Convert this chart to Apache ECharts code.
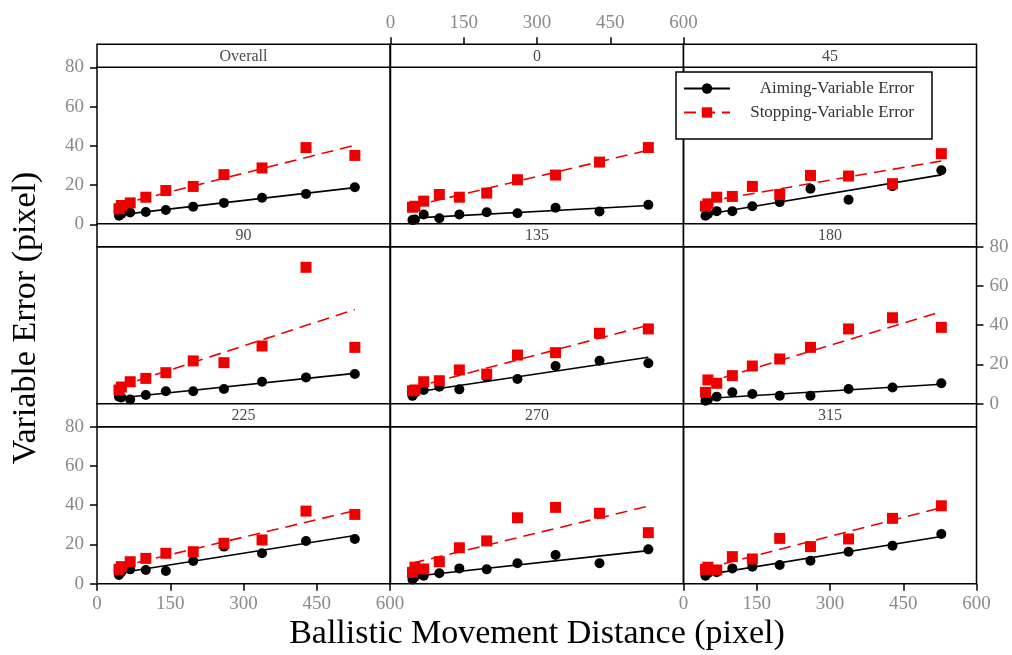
<!DOCTYPE html>
<html>
<head>
<meta charset="utf-8">
<script src="https://cdn.jsdelivr.net/npm/echarts@6/dist/echarts.min.js"></script>
<style>
  html, body { margin: 0; padding: 0; background: #fff; }
  #chart { width: 1012px; height: 655px; }
</style>
</head>
<body>
<div id="chart"></div>
<script>
// Ballistic movement distance (pixel) shared by every panel
const distances = [45, 50, 68, 100, 141, 197, 260, 338, 428, 528];
const panelTitles = ['Overall', '0', '45', '90', '135', '180', '225', '270', '315'];
const xTicks = [0, 150, 300, 450, 600];
const yTicks = [0, 20, 40, 60, 80];

// Variable error (pixel) per direction panel
const aimingOverall   = [4.4, 5.3, 6.0, 6.3, 7.3, 9.0, 10.9, 13.5, 15.5, 18.9];
const stoppingOverall = [7.9, 9.6, 10.9, 13.8, 17.2, 19.3, 25.3, 28.7, 39.1, 35.1];
const aiming0   = [2.2, 2.4, 5.0, 3.1, 5.0, 6.1, 5.6, 8.4, 6.5, 9.9];
const stopping0 = [8.7, 9.2, 11.8, 15.2, 13.8, 15.9, 22.7, 25.1, 31.7, 39.1];
const aiming45   = [4.4, 5.3, 6.7, 6.7, 9.2, 11.3, 18.1, 12.5, 19.4, 27.5];
const stopping45 = [9.2, 10.4, 13.8, 14.2, 19.3, 15.2, 24.9, 24.6, 20.7, 36.0];
const aiming90   = [3.6, 3.2, 2.2, 4.4, 6.3, 6.3, 7.5, 11.2, 13.4, 15.1];
const stopping90 = [7.0, 8.5, 11.2, 12.9, 15.8, 21.8, 20.9, 29.4, 69.5, 28.7];
const aiming135   = [4.0, 5.6, 7.0, 8.7, 7.3, 13.5, 12.6, 19.2, 21.9, 20.6];
const stopping135 = [6.6, 7.0, 11.2, 11.7, 17.2, 15.1, 24.8, 26.0, 35.9, 38.1];
const aiming180   = [1.5, 2.2, 3.6, 5.8, 4.9, 4.1, 4.1, 7.5, 8.3, 10.4];
const stopping180 = [5.8, 12.1, 10.4, 14.3, 19.2, 22.8, 28.7, 38.1, 43.8, 38.9];
const aiming225   = [4.4, 6.1, 7.3, 7.0, 6.5, 11.6, 18.9, 15.5, 21.8, 22.8];
const stopping225 = [7.3, 8.7, 11.2, 12.9, 15.5, 16.3, 20.6, 22.3, 37.0, 35.3];
const aiming270   = [2.2, 3.6, 4.1, 5.3, 7.8, 7.3, 10.4, 14.6, 10.4, 17.5];
const stopping270 = [5.8, 8.4, 7.5, 11.2, 18.3, 21.8, 33.6, 38.9, 35.9, 26.0];
const aiming315   = [4.1, 5.3, 5.8, 7.8, 8.7, 9.5, 11.7, 16.3, 19.4, 25.3];
const stopping315 = [7.3, 8.4, 7.0, 13.8, 12.6, 23.1, 18.9, 22.8, 33.3, 39.7];

const aimingByPanel = [aimingOverall, aiming0, aiming45, aiming90, aiming135,
                       aiming180, aiming225, aiming270, aiming315];
const stoppingByPanel = [stoppingOverall, stopping0, stopping45, stopping90, stopping135,
                         stopping180, stopping225, stopping270, stopping315];

const AIM = 'Aiming-Variable Error';
const STOP = 'Stopping-Variable Error';
const SERIF = '"Liberation Serif", "Times New Roman", serif';
const RED = '#ee0000';

// lattice layout (pixels)
const COL_X = [97, 390.5, 683.5];
const ROW_Y = [67.3, 246.7, 426.7];
const PANEL_W = 293, PANEL_H = 157, STRIP_H = 23;

// least-squares straight line over the panel's distance range
function fitLine(xs, ys) {
  const n = xs.length;
  const mx = xs.reduce((s, v) => s + v, 0) / n;
  const my = ys.reduce((s, v) => s + v, 0) / n;
  let sxy = 0, sxx = 0;
  for (let i = 0; i < n; i++) {
    sxy += (xs[i] - mx) * (ys[i] - my);
    sxx += (xs[i] - mx) * (xs[i] - mx);
  }
  const b = sxy / sxx, a = my - b * mx;
  return [[xs[0], a + b * xs[0]], [xs[n - 1], a + b * xs[n - 1]]];
}

const tickLabelStyle = { fontFamily: SERIF, fontSize: 19, color: '#8a8a8a' };
const grids = [], xAxes = [], yAxes = [], series = [], graphics = [];

panelTitles.forEach((title, i) => {
  const col = i % 3, row = Math.floor(i / 3);
  grids.push({
    left: COL_X[col], top: ROW_Y[row], width: PANEL_W, height: PANEL_H,
    show: true, borderColor: '#000', borderWidth: 1.5, backgroundColor: 'transparent'
  });

  const xBottom = row === 2 && col !== 1;
  const xTop = row === 0 && col === 1;
  xAxes.push({
    type: 'value', gridIndex: i,
    min: xTicks[0], max: xTicks[xTicks.length - 1], interval: xTicks[1] - xTicks[0],
    position: xTop ? 'top' : 'bottom',
    offset: xTop ? STRIP_H : 0,
    axisLine: { show: false, onZero: false },
    splitLine: { show: false },
    axisTick: { show: xBottom || xTop, length: 7, lineStyle: { color: '#000', width: 1.5 } },
    axisLabel: Object.assign({ show: xBottom || xTop, margin: xTop ? 12 : 11 }, tickLabelStyle)
  });

  const yLeft = col === 0 && row !== 1;
  const yRight = col === 2 && row === 1;
  yAxes.push({
    type: 'value', gridIndex: i,
    min: yTicks[0], max: yTicks[yTicks.length - 1], interval: yTicks[1] - yTicks[0],
    position: yRight ? 'right' : 'left',
    axisLine: { show: false, onZero: false },
    splitLine: { show: false },
    axisTick: { show: yLeft || yRight, length: 7, lineStyle: { color: '#000', width: 1.5 } },
    axisLabel: Object.assign({ show: yLeft || yRight, margin: 13 }, tickLabelStyle)
  });

  const aim = aimingByPanel[i], stop = stoppingByPanel[i];
  series.push({
    name: AIM, type: 'line', xAxisIndex: i, yAxisIndex: i,
    data: fitLine(distances, aim), symbol: 'circle', symbolSize: 10, showSymbol: false,
    lineStyle: { color: '#000', width: 1.6 }, itemStyle: { color: '#000' },
    silent: true, z: 2
  });
  series.push({
    name: STOP, type: 'line', xAxisIndex: i, yAxisIndex: i,
    data: fitLine(distances, stop), symbol: 'rect', symbolSize: 10, showSymbol: false,
    lineStyle: { color: RED, width: 1.6, type: [12, 7] }, itemStyle: { color: RED },
    silent: true, z: 2
  });
  series.push({
    name: AIM, type: 'scatter', xAxisIndex: i, yAxisIndex: i,
    data: distances.map((d, k) => [d, aim[k]]),
    symbol: 'circle', symbolSize: 10, itemStyle: { color: '#000', opacity: 1 }, z: 3
  });
  series.push({
    name: STOP, type: 'scatter', xAxisIndex: i, yAxisIndex: i,
    data: distances.map((d, k) => [d, stop[k]]),
    symbol: 'rect', symbolSize: 11, itemStyle: { color: RED, opacity: 1 }, z: 4
  });

  // strip header above each panel
  const sx = COL_X[col], sy = ROW_Y[row] - STRIP_H;
  graphics.push({
    type: 'rect', shape: { x: sx, y: sy, width: PANEL_W, height: STRIP_H },
    style: { fill: '#fff', stroke: '#000', lineWidth: 1.5 }, z: 1, silent: true
  });
  graphics.push({
    type: 'text', x: sx + PANEL_W / 2, y: sy + STRIP_H / 2 + 1,
    style: { text: title, align: 'center', verticalAlign: 'middle',
             font: '16px ' + SERIF, fill: '#4a4a4a' },
    z: 2, silent: true
  });
});

graphics.push({
  type: 'text', x: 26, y: 318, rotation: Math.PI / 2,
  style: { text: 'Variable Error (pixel)', align: 'center', verticalAlign: 'middle',
           font: '34px ' + SERIF, fill: '#000' },
  silent: true
});
graphics.push({
  type: 'text', x: 537, y: 634,
  style: { text: 'Ballistic Movement Distance (pixel)', align: 'center', verticalAlign: 'middle',
           font: '34px ' + SERIF, fill: '#000' },
  silent: true
});

const chart = echarts.init(document.getElementById('chart'), null, { renderer: 'canvas' });
chart.setOption({
  animation: false,
  backgroundColor: '#fff',
  grid: grids,
  xAxis: xAxes,
  yAxis: yAxes,
  legend: {
    data: [AIM, STOP],
    orient: 'vertical', left: 676, top: 72,
    itemWidth: 46, itemHeight: 13, itemGap: 7,
    padding: [8, 18, 18, 7],
    backgroundColor: '#fff', borderColor: '#000', borderWidth: 1.5, borderRadius: 0,
    selectedMode: false,
    formatter: name => '{t|' + name + '}',
    textStyle: {
      rich: { t: { width: 179, align: 'right', fontFamily: SERIF, fontSize: 17,
                   color: '#333', lineHeight: 16 } }
    },
    z: 10
  },
  graphic: graphics,
  series: series
});
</script>
</body>
</html>
